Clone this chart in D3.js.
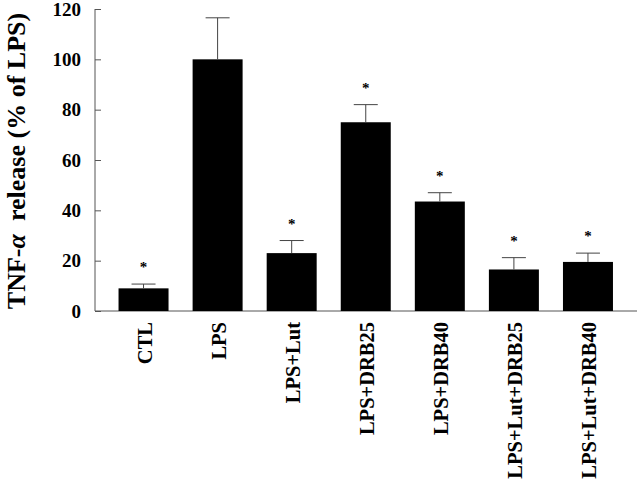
<!DOCTYPE html>
<html>
<head>
<meta charset="utf-8">
<script src="https://cdn.jsdelivr.net/npm/d3@7"></script>
<style>
  body { margin: 0; background: #fff; }
  svg { display: block; }
  text { font-family: "Liberation Serif", "Times New Roman", serif; font-weight: bold; fill: #000; }
</style>
</head>
<body>
<svg id="chart" width="640" height="481"></svg>
<script>
// data
const groups = ["CTL", "LPS", "LPS+Lut", "LPS+DRB25", "LPS+DRB40", "LPS+Lut+DRB25", "LPS+Lut+DRB40"];
const release = [9, 100, 23, 75, 43.5, 16.5, 19.5];
const errors = [1.7, 16.5, 5, 7, 3.5, 4.7, 3.5];
const starred = [true, false, true, true, true, true, true];
const yTicks = [0, 20, 40, 60, 80, 100, 120];

const svg = d3.select("#chart");

const x = d3.scaleBand()
  .domain(groups)
  .range([106.5, 625])
  .paddingInner(0.325)
  .paddingOuter(0.1625);

const y = d3.scaleLinear().domain([0, 120]).range([311, 9]);

const data = groups.map((g, i) => ({ g: g, v: release[i], e: errors[i], s: starred[i] }));

// y axis, ticks pointing inward
const yAxis = svg.append("g")
  .attr("transform", "translate(95,0)")
  .call(d3.axisRight(y).tickValues(yTicks).tickSize(6).tickFormat(""));
yAxis.select(".domain").attr("stroke", "#555").attr("d", "M0," + y(120) + "V" + y(0));
yAxis.selectAll(".tick line").attr("stroke", "#555");

svg.append("g")
  .selectAll("text")
  .data(yTicks)
  .enter()
  .append("text")
  .attr("x", 81)
  .attr("y", d => y(d))
  .attr("dy", "0.35em")
  .attr("text-anchor", "end")
  .style("font-size", "19px")
  .text(d => d);

// x axis line
svg.append("line")
  .attr("x1", 95).attr("x2", 637)
  .attr("y1", y(0)).attr("y2", y(0))
  .attr("stroke", "#555");

// bars
svg.append("g")
  .selectAll("rect")
  .data(data)
  .enter()
  .append("rect")
  .attr("x", d => x(d.g))
  .attr("y", d => y(d.v))
  .attr("width", x.bandwidth())
  .attr("height", d => y(0) - y(d.v))
  .attr("fill", "#000");

// error bars (upper only)
const mid = d => x(d.g) + x.bandwidth() / 2;
const err = svg.append("g").attr("stroke", "#444").attr("stroke-width", 1);
err.selectAll(".stem")
  .data(data)
  .enter()
  .append("line")
  .attr("x1", mid)
  .attr("x2", mid)
  .attr("y1", d => y(d.v))
  .attr("y2", d => y(d.v + d.e));
err.selectAll(".cap")
  .data(data)
  .enter()
  .append("line")
  .attr("x1", d => mid(d) - 12)
  .attr("x2", d => mid(d) + 12)
  .attr("y1", d => y(d.v + d.e))
  .attr("y2", d => y(d.v + d.e));

// significance stars
svg.append("g")
  .selectAll("text")
  .data(data.filter(d => d.s))
  .enter()
  .append("text")
  .attr("x", mid)
  .attr("y", d => y(d.v + d.e) - 12)
  .attr("text-anchor", "middle")
  .style("font-size", "15px")
  .text("*");

// category labels, rotated
svg.append("g")
  .selectAll("text")
  .data(groups)
  .enter()
  .append("text")
  .attr("transform", d => "translate(" + (x(d) + x.bandwidth() / 2 + 8) + ",322) rotate(-90)")
  .attr("text-anchor", "end")
  .style("font-size", "20.5px")
  .text(d => d);

// y axis title
const title = svg.append("text")
  .attr("transform", "translate(25,161) rotate(-90)")
  .attr("text-anchor", "middle")
  .style("font-size", "26px")
  .style("white-space", "pre");
title.append("tspan").text("TNF-");
title.append("tspan").style("font-style", "italic").text("α");
title.append("tspan").text("  release (% of LPS)");
</script>
</body>
</html>
